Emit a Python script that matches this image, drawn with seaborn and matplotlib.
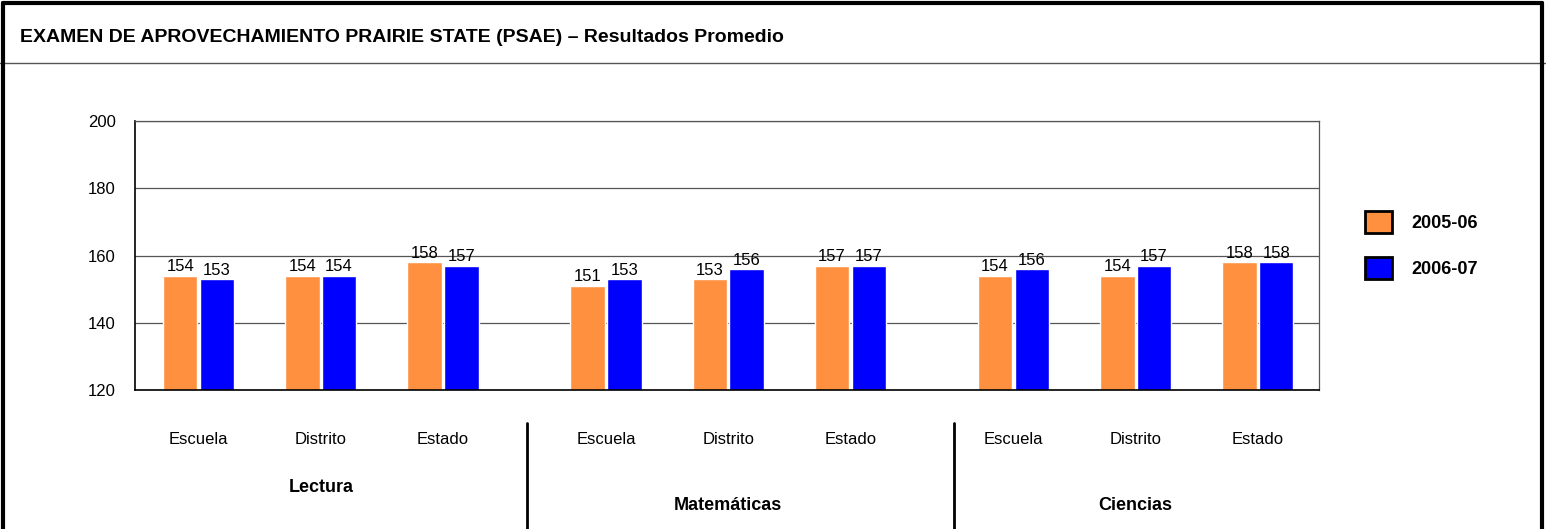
import numpy as np
import pandas as pd
import matplotlib
matplotlib.use("Agg")
import matplotlib.pyplot as plt
import matplotlib.transforms as mtransforms
from matplotlib.patches import Patch
from matplotlib.lines import Line2D
import seaborn as sns

# ==================== Data ==================== #
subjects = ["Lectura", "Matemáticas", "Ciencias"]
levels = ["Escuela", "Distrito", "Estado"]
years = ["2005-06", "2006-07"]
scores_0506 = [154, 154, 158, 151, 153, 157, 154, 154, 158]
scores_0607 = [153, 154, 157, 153, 156, 157, 156, 157, 158]
colors = ["#FF9040", "#0000FF"]

# ==================== Layout helpers ==================== #
W, H = 1546, 529
group_step = 3 + 1 / 3  # three bars plus a wider gap between subjects

positions = []
for i in range(len(subjects)):
    for j in range(len(levels)):
        positions.append(round(i * group_step + j, 4))

rows = []
for k, p in enumerate(positions):
    rows.append({"pos": p, "year": years[0], "score": scores_0506[k]})
    rows.append({"pos": p, "year": years[1], "score": scores_0607[k]})
df = pd.DataFrame(rows)

sns.set_style("white")
plt.rcParams["font.family"] = ["Liberation Sans", "DejaVu Sans"]
plt.rcParams["text.color"] = "black"
plt.rcParams["xtick.color"] = "black"
plt.rcParams["ytick.color"] = "black"

fig = plt.figure(figsize=(W / 100, H / 100), dpi=100)
ax = fig.add_axes([135 / W, 1 - 390 / H, (1319 - 135) / W, (390 - 121) / H])

sns.barplot(data=df, x="pos", y="score", hue="year", palette=colors,
            native_scale=True, width=0.6, gap=0.06, saturation=1,
            legend=False, ax=ax)

for c in ax.containers:
    ax.bar_label(c, padding=1, fontsize=12)

ax.set_ylim(120, 200)
ax.set_yticks([120, 140, 160, 180, 200])
ax.set_xlim(-0.52, positions[-1] + 0.5)
ax.set_xticks(positions)
ax.set_xticklabels(levels * len(subjects), fontsize=12)
ax.tick_params(axis="x", length=0, pad=30)
ax.tick_params(axis="y", length=0, pad=14, labelsize=12)
ax.set_xlabel("")
ax.set_ylabel("")
ax.grid(axis="y", color="#555555", linewidth=0.9)
ax.set_axisbelow(True)
for side in ["left", "bottom"]:
    ax.spines[side].set_color("black")
    ax.spines[side].set_linewidth(1.2)
for side in ["top", "right"]:
    ax.spines[side].set_color("#555555")
    ax.spines[side].set_linewidth(0.9)

# subject labels below the level labels
blend = mtransforms.blended_transform_factory(ax.transData, fig.transFigure)
subj_y = [1 - 487 / H, 1 - 506 / H, 1 - 506 / H]
for i, s in enumerate(subjects):
    ax.text(i * group_step + 1, subj_y[i], s, transform=blend, ha="center",
            va="center", fontsize=13, fontweight="bold")

# separators between subjects
for xp in [527, 954]:
    fig.add_artist(Line2D([xp / W, xp / W], [0, 1 - 423 / H], color="black",
                          linewidth=2, transform=fig.transFigure))

# title and frame
fig.text(20 / W, 1 - 37 / H, "EXAMEN DE APROVECHAMIENTO PRAIRIE STATE (PSAE) \u2013 Resultados Promedio",
         fontsize=14, fontweight="bold", va="center", ha="left")
fig.add_artist(Line2D([0, 1], [1 - 63 / H, 1 - 63 / H], color="#555555",
                      linewidth=1, transform=fig.transFigure))
fig.add_artist(Line2D([3 / W, 3 / W], [0, 1 - 3 / H], color="black", linewidth=3,
                      transform=fig.transFigure))
fig.add_artist(Line2D([1542 / W, 1542 / W], [0, 1 - 3 / H], color="black", linewidth=3,
                      transform=fig.transFigure))
fig.add_artist(Line2D([3 / W, 1542 / W], [1 - 3 / H, 1 - 3 / H], color="black", linewidth=3,
                      transform=fig.transFigure))

# legend
handles = [Patch(facecolor=colors[i], edgecolor="black", linewidth=2) for i in range(2)]
fig.legend(handles, years, loc="upper left", bbox_to_anchor=(1356 / W, 1 - 202 / H),
           frameon=False, borderpad=0, handlelength=1.5, handleheight=1.5,
           labelspacing=1.35, handletextpad=1.05,
           prop={"weight": "bold", "size": 13})

fig.savefig("out.png", dpi=100)
